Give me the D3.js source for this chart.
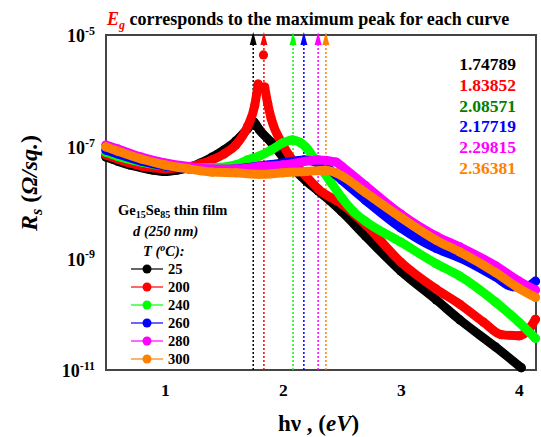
<!DOCTYPE html>
<html>
<head>
<meta charset="utf-8">
<script src="https://cdn.jsdelivr.net/npm/d3@7"></script>
<style>
  body { margin: 0; background: #fff; }
  svg text { font-family: 'Liberation Serif', 'Times New Roman', 'DejaVu Serif', serif; font-weight: bold; }
</style>
</head>
<body>
<svg width="541" height="437"></svg>
<script>
// photon energy hv (eV) and sheet resistance Rs (ohm/sq.)
const energy25 = [0.5, 0.6, 0.7, 0.8, 0.9, 1.0, 1.1, 1.2, 1.3, 1.4, 1.5, 1.6, 1.7, 1.75, 1.8, 1.9, 2.0, 2.1, 2.2, 2.3, 2.4, 2.5, 2.7, 3.0, 3.3, 3.5, 3.8, 4.02];
const rs25 = [6.5e-8, 5.5e-8, 4.7e-8, 4.2e-8, 3.8e-8, 3.6e-8, 3.8e-8, 4.2e-8, 5.1e-8, 6.5e-8, 8.7e-8, 1.26e-7, 2.1e-7, 2.8e-7, 2.0e-7, 1.2e-7, 6.5e-8, 3.8e-8, 2.4e-8, 1.6e-8, 1.07e-8, 6.8e-9, 2.5e-9, 5.9e-10, 1.8e-10, 7.9e-11, 2.6e-11, 1.1e-11];

const energy200 = [0.5, 0.6, 0.7, 0.8, 0.9, 1.0, 1.1, 1.2, 1.3, 1.4, 1.5, 1.6, 1.7, 1.76, 1.79, 1.845, 1.87, 1.9, 2.0, 2.1, 2.2, 2.3, 2.5, 2.7, 3.0, 3.3, 3.5, 3.7, 3.85, 4.0, 4.1, 4.14];
const rs200 = [7.1e-8, 6.0e-8, 5.1e-8, 4.5e-8, 4.2e-8, 4.0e-8, 4.2e-8, 4.4e-8, 4.9e-8, 5.8e-8, 7.4e-8, 1.07e-7, 2.3e-7, 5.4e-7, 1.32e-6, 1.17e-6, 6.0e-7, 3.2e-7, 1.07e-7, 5.1e-8, 2.9e-8, 1.74e-8, 9.3e-9, 4.0e-9, 8.5e-10, 2.8e-10, 1.5e-10, 7.2e-11, 4.3e-11, 4.1e-11, 5.9e-11, 8.1e-11];
// the lone point on top of the 200 C peak
const peakEnergy200 = [1.835];
const peakRs200 = [4.4e-6];

const energy240 = [0.5, 0.6, 0.8, 1.0, 1.2, 1.4, 1.6, 1.7, 1.8, 1.9, 2.0, 2.08, 2.15, 2.2, 2.3, 2.4, 2.5, 2.6, 2.7, 3.0, 3.3, 3.5, 3.8, 4.0, 4.14];
const rs240 = [7.9e-8, 6.7e-8, 5.3e-8, 4.5e-8, 4.2e-8, 4.2e-8, 4.7e-8, 5.8e-8, 6.8e-8, 8.7e-8, 1.17e-7, 1.32e-7, 1.17e-7, 9.5e-8, 4.7e-8, 2.4e-8, 1.2e-8, 6.8e-9, 4.6e-9, 1.95e-9, 8.0e-10, 4.8e-10, 1.66e-10, 7.2e-11, 3.7e-11];

const energy260 = [0.5, 0.6, 0.8, 1.0, 1.2, 1.4, 1.6, 1.8, 2.0, 2.18, 2.3, 2.4, 2.5, 2.7, 3.0, 3.3, 3.5, 3.8, 3.95, 4.05, 4.14];
const rs260 = [8.7e-8, 7.4e-8, 5.5e-8, 4.5e-8, 4.0e-8, 3.8e-8, 4.0e-8, 4.5e-8, 5.1e-8, 5.8e-8, 5.1e-8, 3.8e-8, 2.5e-8, 1.1e-8, 3.5e-9, 1.5e-9, 1.02e-9, 4.7e-10, 3.1e-10, 3.1e-10, 3.9e-10];

const energy280 = [0.5, 0.6, 0.8, 1.0, 1.2, 1.4, 1.6, 1.8, 2.0, 2.3, 2.45, 2.5, 2.7, 3.0, 3.3, 3.5, 3.8, 4.0, 4.14];
const rs280 = [1.07e-7, 9.1e-8, 6.5e-8, 5.1e-8, 4.4e-8, 4.0e-8, 4.0e-8, 4.4e-8, 4.7e-8, 5.8e-8, 5.3e-8, 4.4e-8, 2.0e-8, 6.2e-9, 2.5e-9, 1.6e-9, 7.4e-10, 3.9e-10, 2.7e-10];

const energy300 = [0.5, 0.6, 0.8, 1.0, 1.2, 1.4, 1.6, 1.8, 2.0, 2.2, 2.36, 2.45, 2.5, 2.7, 3.0, 3.3, 3.5, 3.8, 4.0, 4.14];
const rs300 = [9.9e-8, 8.3e-8, 6.0e-8, 4.7e-8, 4.0e-8, 3.5e-8, 3.4e-8, 3.2e-8, 3.4e-8, 3.6e-8, 3.8e-8, 3.4e-8, 3.0e-8, 1.5e-8, 5.4e-9, 2.1e-9, 1.3e-9, 5.6e-10, 2.9e-10, 2.0e-10];

const temperatures = ['25', '200', '240', '260', '280', '300'];
const egValues = [1.74789, 1.83852, 2.08571, 2.17719, 2.29815, 2.36381];
const xTicks = [1, 2, 3, 4];
const yTicks = [1e-11, 1e-9, 1e-7, 1e-5];
const yTickExponents = ['-11', '-9', '-7', '-5'];

const curveColors = ['#000000', '#ff0000', '#00ff00', '#0000ff', '#ff00ff', '#ff8000'];
const labelColors = ['#000000', '#ff0000', '#008000', '#0000ff', '#ff00ff', '#ff8000'];

const series = [
  { energy: energy25, rs: rs25 },
  { energy: energy200, rs: rs200 },
  { energy: energy240, rs: rs240 },
  { energy: energy260, rs: rs260 },
  { energy: energy280, rs: rs280 },
  { energy: energy300, rs: rs300 }
];

const svg = d3.select('svg');
const width = +svg.attr('width');
const height = +svg.attr('height');
const margin = { top: 35, right: 5, bottom: 67, left: 106 };
const innerWidth = width - margin.left - margin.right;
const innerHeight = height - margin.top - margin.bottom;

const xScale = d3.scaleLinear().domain([0.5, 4.145]).range([0, innerWidth]);
const yScale = d3.scaleLog().domain([1e-11, 1e-5]).range([innerHeight, 0]);

const g = svg.append('g').attr('transform', `translate(${margin.left},${margin.top})`);

// frame
g.append('rect')
  .attr('width', innerWidth).attr('height', innerHeight)
  .attr('fill', 'none').attr('stroke', '#444').attr('stroke-width', 2);

// axes, no tick marks, only labels
const xAxis = g.append('g')
  .attr('transform', `translate(0,${innerHeight})`)
  .call(d3.axisBottom(xScale).tickValues(xTicks).tickSize(0).tickPadding(14).tickFormat(d3.format('d')));
xAxis.attr('font-size', 17.5).attr('font-family', null);
xAxis.select('.domain').remove();

const yAxis = g.append('g')
  .call(d3.axisLeft(yScale).tickValues(yTicks).tickSize(0).tickPadding(11).tickFormat(() => ''));
yAxis.attr('font-size', 18).attr('font-family', null);
yAxis.select('.domain').remove();
yAxis.selectAll('.tick text').attr('dy', '0.38em').each(function (d, i) {
  const t = d3.select(this);
  t.append('tspan').text('10');
  t.append('tspan').attr('dy', '-0.6em').attr('font-size', 12).text(yTickExponents[i]);
});

// dotted Eg markers with arrow heads
egValues.forEach((eg, i) => {
  const x = xScale(eg);
  g.append('line')
    .attr('x1', x).attr('x2', x).attr('y1', innerHeight).attr('y2', 8)
    .attr('stroke', curveColors[i]).attr('stroke-width', 1.5).attr('stroke-dasharray', '2,2');
  g.append('path')
    .attr('d', `M${x - 3.5},10 L${x},-3 L${x + 3.5},10 Z`)
    .attr('fill', curveColors[i]);
});

// curves: thick line plus the marker points
const line = d3.line()
  .x(d => xScale(d[0]))
  .y(d => yScale(d[1]))
  .curve(d3.curveMonotoneX);

series.forEach((s, i) => {
  const pts = d3.zip(s.energy, s.rs);
  // the 200 C markers spread apart around the peak, so its two flanks are drawn apart
  const branches = i === 1 ? [pts.filter(d => d[0] < 1.8), pts.filter(d => d[0] > 1.84)] : [pts];
  branches.forEach(b => {
    g.append('path').datum(b)
      .attr('d', line)
      .attr('fill', 'none').attr('stroke', curveColors[i])
      .attr('stroke-width', 9).attr('stroke-linejoin', 'round').attr('stroke-linecap', 'round');
  });
  g.append('g').selectAll('circle').data(pts)
    .enter().append('circle')
      .attr('cx', d => xScale(d[0])).attr('cy', d => yScale(d[1]))
      .attr('r', 4.6).attr('fill', curveColors[i]);
  if (i === 1) {
    g.append('g').selectAll('circle').data(d3.zip(peakEnergy200, peakRs200))
      .enter().append('circle')
        .attr('cx', d => xScale(d[0])).attr('cy', d => yScale(d[1]))
        .attr('r', 4.6).attr('fill', curveColors[i]);
  }
});

// Eg values list on the right
svg.append('g').selectAll('text').data(egValues)
  .enter().append('text')
    .attr('x', 516).attr('y', (d, i) => 70 + i * 20.8)
    .attr('text-anchor', 'end').attr('font-size', 17.5)
    .attr('fill', (d, i) => labelColors[i])
    .text(d => d.toFixed(5));

// title
const title = svg.append('text').attr('x', 107).attr('y', 25).attr('font-size', 18);
title.append('tspan').attr('fill', '#ff0000').attr('font-style', 'italic').text('E');
title.append('tspan').attr('fill', '#ff0000').attr('font-style', 'italic')
  .attr('font-size', 12).attr('dy', 4).text('g');
title.append('tspan').attr('dy', -4).text(' corresponds to the maximum peak for each curve');

// axis titles
const yTitle = svg.append('text')
  .attr('transform', 'translate(37,183) rotate(-90)')
  .attr('text-anchor', 'middle').attr('font-size', 24);
yTitle.append('tspan').attr('font-style', 'italic').text('R');
yTitle.append('tspan').attr('font-style', 'italic').attr('font-size', 16).attr('dy', 5).text('s');
yTitle.append('tspan').attr('dy', -5).text(' (');
yTitle.append('tspan').attr('font-style', 'italic').text('\u03A9/sq.');
yTitle.append('tspan').text(')');

const xTitle = svg.append('text').attr('x', 278).attr('y', 431).attr('font-size', 23);
xTitle.append('tspan').text('h\u03BD , (');
xTitle.append('tspan').attr('font-style', 'italic').text('eV');
xTitle.append('tspan').text(')');

// legend
const legend = svg.append('g').attr('font-size', 14.5);
const head = legend.append('text').attr('x', 118).attr('y', 215);
head.append('tspan').text('Ge');
head.append('tspan').attr('font-size', 10).attr('dy', 3).text('15');
head.append('tspan').attr('dy', -3).text('Se');
head.append('tspan').attr('font-size', 10).attr('dy', 3).text('85');
head.append('tspan').attr('dy', -3).text(' thin film');

const thick = legend.append('text').attr('x', 133).attr('y', 236).attr('font-style', 'italic');
thick.text('d (250 nm)');

const tHead = legend.append('text').attr('x', 143).attr('y', 256).attr('font-style', 'italic');
tHead.append('tspan').text('T (');
tHead.append('tspan').attr('font-size', 10).attr('dy', -5).text('o');
tHead.append('tspan').attr('dy', 5).text('C):');

const entries = legend.selectAll('.entry').data(temperatures)
  .enter().append('g')
    .attr('class', 'entry')
    .attr('transform', (d, i) => `translate(0,${269 + i * 18})`);
entries.append('line')
  .attr('x1', 131).attr('x2', 163).attr('y1', 0).attr('y2', 0)
  .attr('stroke', (d, i) => curveColors[i]).attr('stroke-width', 1.2);
entries.append('circle')
  .attr('cx', 147).attr('cy', 0).attr('r', 4.5)
  .attr('fill', (d, i) => curveColors[i]);
entries.append('text')
  .attr('x', 168).attr('y', 5)
  .text(d => d);
</script>
</body>
</html>
